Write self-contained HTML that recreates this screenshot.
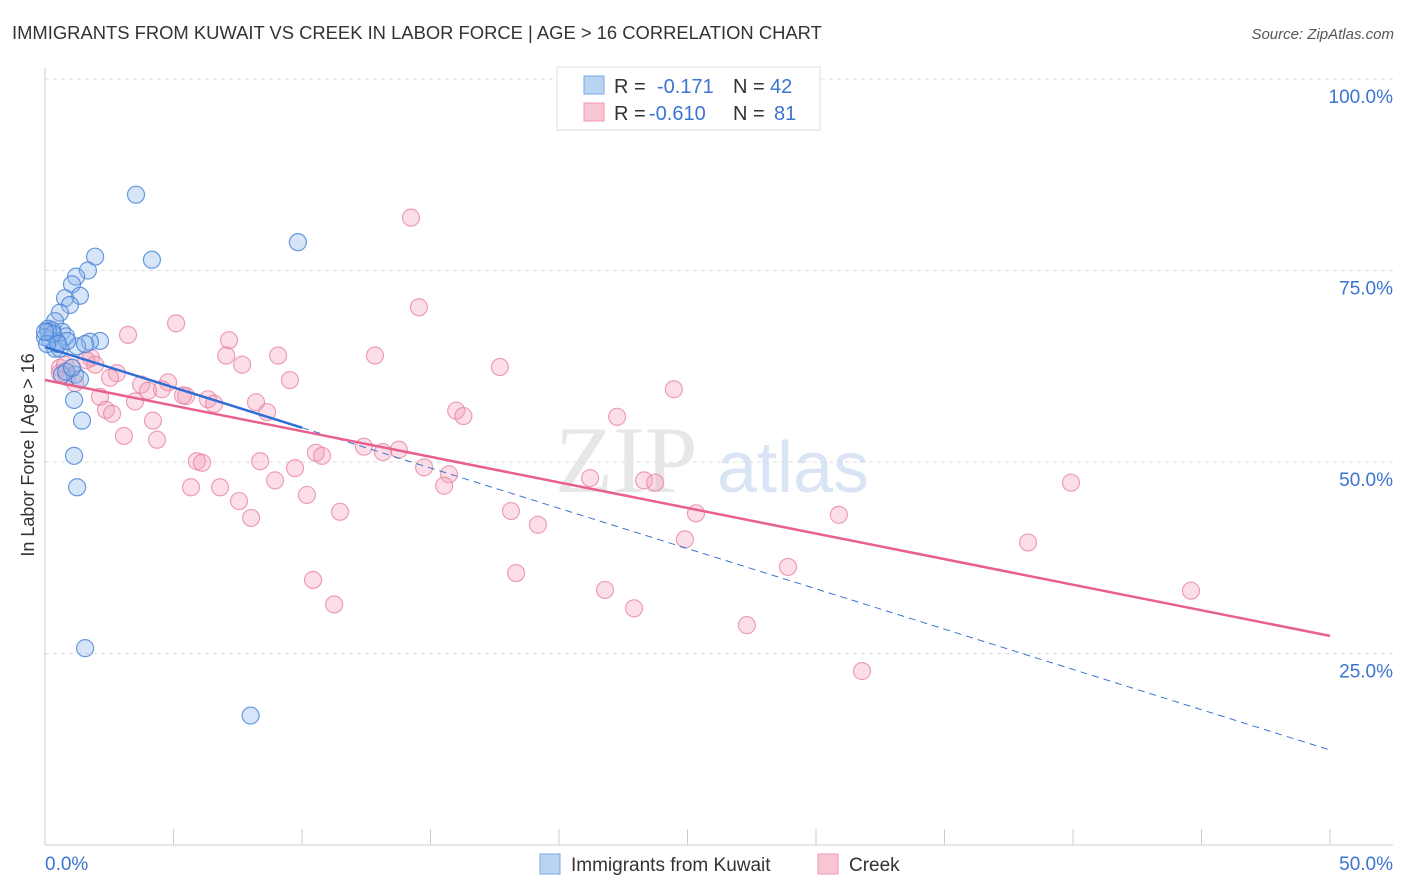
<!DOCTYPE html>
<html><head><meta charset="utf-8"><style>
body{margin:0;background:#fff;font-family:"Liberation Sans",sans-serif}
</style></head><body>
<svg id="c" width="1406" height="892" xmlns="http://www.w3.org/2000/svg" style="position:absolute;left:0;top:0">
<text x="12" y="39" font-size="18.4" fill="#333">IMMIGRANTS FROM KUWAIT VS CREEK IN LABOR FORCE | AGE &gt; 16 CORRELATION CHART</text>
<text x="1394" y="39" font-size="15" fill="#555" text-anchor="end" font-style="italic">Source: ZipAtlas.com</text>
<text x="555" y="492" font-size="95" fill="#ddd" font-family="Liberation Serif,serif" opacity="0.7">ZIP</text>
<text x="717" y="492" font-size="72" fill="#c9dbf0" opacity="0.7">atlas</text>
<text transform="translate(34,455) rotate(-90)" font-size="18" fill="#333" text-anchor="middle">In Labor Force | Age &gt; 16</text>
<g id="g"></g>
<g>
<rect x="557" y="67" width="263" height="63" fill="#fff" stroke="#ddd"/>
<rect x="584" y="76" width="20" height="18" fill="#b9d3f3" stroke="#7aa7e3"/>
<rect x="584" y="103" width="20" height="18" fill="#f9c6d4" stroke="#ee9ab2"/>
<text x="614" y="93" font-size="20" fill="#333">R =</text>
<text x="657" y="93" font-size="20" fill="#3b74d1">-0.171</text>
<text x="733" y="93" font-size="20" fill="#333">N =</text>
<text x="770" y="93" font-size="20" fill="#3b74d1">42</text>
<text x="614" y="120" font-size="20" fill="#333">R =</text>
<text x="649" y="120" font-size="20" fill="#3b74d1">-0.610</text>
<text x="733" y="120" font-size="20" fill="#333">N =</text>
<text x="774" y="120" font-size="20" fill="#3b74d1">81</text>
</g>
<g>
<rect x="540" y="854" width="20" height="20" fill="#b9d3f3" stroke="#7aa7e3"/>
<text x="571" y="871" font-size="19" fill="#333">Immigrants from Kuwait</text>
<rect x="818" y="854" width="20" height="20" fill="#f9c6d4" stroke="#ee9ab2"/>
<text x="849" y="871" font-size="19" fill="#333">Creek</text>
</g>
</svg>
<script>
const yTicks=[25,50,75,100];
const yTickLabels=["25.0%","50.0%","75.0%","100.0%"];
const xTickLabels=["0.0%","50.0%"];
const blueX=[3.54,9.84,4.16,1.95,1.67,1.21,1.05,1.36,0.78,0.97,0.58,0.39,0.12,0.66,0.27,0.82,0.19,0.47,2.14,1.75,1.25,0.39,0.58,0.86,1.17,1.36,0.66,1.13,1.44,1.13,1.25,1.56,8.0,0.12,0.0,0.31,0.51,0.08,0.82,1.05,1.56,0.0];
const blueY=[84.9,78.7,76.4,76.8,75.0,74.2,73.2,71.7,71.4,70.5,69.5,68.4,67.4,67.0,67.2,66.4,66.0,65.7,65.8,65.7,65.1,64.8,64.8,65.8,61.4,60.8,61.4,58.1,55.4,50.8,46.7,25.7,16.9,67.0,66.3,66.7,65.4,65.4,61.8,62.3,65.4,67.0];
const pinkX=[14.24,14.55,5.10,3.23,7.16,9.07,12.84,7.05,7.67,1.79,1.95,1.60,2.80,0.58,0.86,17.70,9.53,24.47,4.79,3.74,4.55,5.49,6.34,5.37,4.01,3.50,2.14,8.21,6.58,2.37,2.61,8.64,16.00,16.28,22.26,4.20,3.07,4.36,12.41,13.77,13.15,10.54,10.78,5.91,6.11,8.37,9.73,14.75,15.72,21.21,8.95,23.31,23.74,39.92,15.53,5.68,6.81,10.19,7.55,18.13,11.48,25.33,30.89,8.02,19.18,24.90,38.25,18.33,10.43,28.91,21.79,44.59,11.25,22.92,27.31,31.79,0.58,1.17,2.53,1.05,0.78];
const pinkY=[81.9,70.2,68.1,66.6,65.9,63.9,63.9,63.9,62.7,63.6,62.7,63.3,61.6,62.3,61.1,62.4,60.7,59.5,60.4,60.1,59.5,58.6,58.2,58.7,59.3,57.9,58.5,57.8,57.6,56.8,56.3,56.5,56.7,56.0,55.9,55.4,53.4,52.9,52.0,51.6,51.3,51.2,50.8,50.1,49.9,50.1,49.2,49.3,48.4,47.9,47.6,47.6,47.3,47.3,46.9,46.7,46.7,45.7,44.9,43.6,43.5,43.3,43.1,42.7,41.8,39.9,39.5,35.5,34.6,36.3,33.3,33.2,31.4,30.9,28.7,22.7,61.6,60.3,61.0,62.3,62.7];
const blueLine=[65.0,12.4], blueSolidEnd=10;
const pinkLine=[60.7,27.3];
const X=v=>45+v/50*1285, Y=v=>845-v/100*766;
const g=document.getElementById('g');const NS='http://www.w3.org/2000/svg';
function mk(t,a){const e=document.createElementNS(NS,t);for(const k in a)e.setAttribute(k,a[k]);g.appendChild(e);return e;}
yTicks.forEach((t,i)=>{const l=mk('line',{x1:45,x2:1393,y1:Y(t),y2:Y(t),stroke:'#ddd','stroke-dasharray':'4,4'});


const tx=mk('text',{x:1393,y:Y(t)+24,'font-size':19,fill:'#3b74d1','text-anchor':'end'});tx.textContent=yTickLabels[i];

});
const ax=mk('line',{x1:45,x2:1393,y1:845,y2:845,stroke:'#ccc'});


const ay=mk('line',{x1:45,x2:45,y1:68,y2:845,stroke:'#ccc'});


for(let i=1;i<=10;i++){const t=mk('line',{x1:X(i*5),x2:X(i*5),y1:829,y2:845,stroke:'#ccc'});

}
[[0,'start',45],[50,'end',1393]].forEach((d,i)=>{const t=mk('text',{x:d[2],y:870,'font-size':19,fill:'#3b74d1','text-anchor':d[1]});t.textContent=xTickLabels[i];

});
pinkX.forEach((x,i)=>{const c=mk('circle',{cx:X(x),cy:Y(pinkY[i]),r:8.5,fill:'rgba(244,160,185,0.35)',stroke:'rgba(232,130,160,0.75)','stroke-width':1.2});

});
blueX.forEach((x,i)=>{const c=mk('circle',{cx:X(x),cy:Y(blueY[i]),r:8.5,fill:'rgba(140,180,235,0.35)',stroke:'rgba(70,130,215,0.8)','stroke-width':1.2});

});
const by=x=>blueLine[0]+(blueLine[1]-blueLine[0])*x/50;
const bd=mk('line',{x1:X(blueSolidEnd),y1:Y(by(blueSolidEnd)),x2:X(50),y2:Y(blueLine[1]),stroke:'#3b74d1','stroke-width':1,'stroke-dasharray':'7,5'});


const bs=mk('line',{x1:X(0),y1:Y(blueLine[0]),x2:X(blueSolidEnd),y2:Y(by(blueSolidEnd)),stroke:'#2e6fd6','stroke-width':2.5});


const pl=mk('line',{x1:X(0),y1:Y(pinkLine[0]),x2:X(50),y2:Y(pinkLine[1]),stroke:'#e8608e','stroke-width':2.5});


</script>
</body></html>
